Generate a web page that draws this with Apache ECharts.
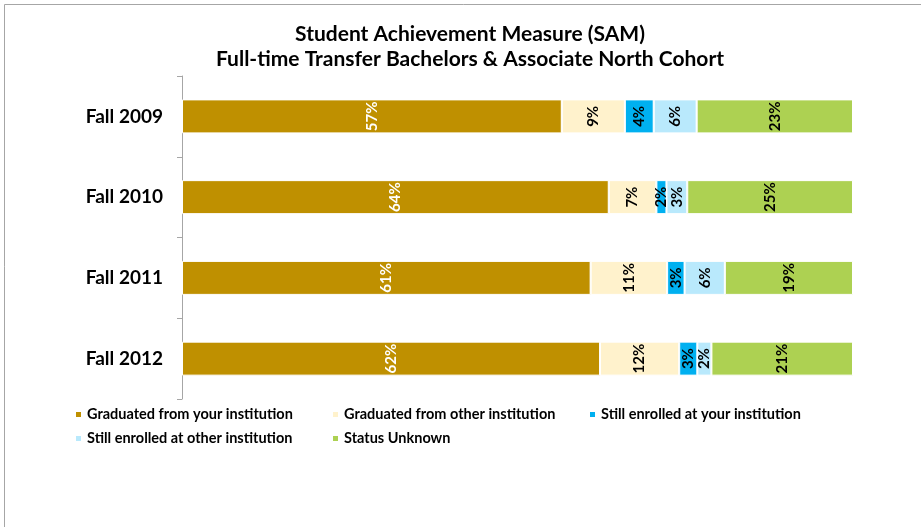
<!DOCTYPE html>
<html>
<head>
<meta charset="utf-8">
<script src="https://cdn.jsdelivr.net/npm/echarts@6/dist/echarts.min.js"></script>
<style>
html,body{margin:0;padding:0;background:#fff;}
#chart{width:921px;height:527px;}
</style>
</head>
<body>
<div id="chart"></div>
<script>
const categories = ['Fall 2009', 'Fall 2010', 'Fall 2011', 'Fall 2012'];
const seriesNames = [
  'Graduated from your institution',
  'Graduated from other institution',
  'Still enrolled at your institution',
  'Still enrolled at other institution',
  'Status Unknown'
];
const gradYour = [56.6, 63.6, 60.9, 62.3];
const gradOther = [9.4, 7.1, 11.4, 11.8];
const enrolledYour = [4.3, 1.5, 2.6, 2.7];
const enrolledOther = [6.4, 3.1, 6.0, 2.1];
const unknown = [23.3, 24.7, 19.1, 21.1];
const seriesValues = [gradYour, gradOther, enrolledYour, enrolledOther, unknown];
const colors = ['#BF9000', '#FFF2CC', '#00B0F0', '#B9E9FC', '#ADD152'];
const labelColors = ['#ffffff', '#000000', '#000000', '#000000', '#000000'];
const titleLines = ['Student Achievement Measure (SAM)', 'Full-time Transfer Bachelors & Associate North Cohort'];

const FONT = 'Lato, "Open Sans", sans-serif';
const chart = echarts.init(document.getElementById('chart'), null, {renderer: 'canvas'});

const legendPos = [[74, 407], [331, 407], [588, 407], [74, 431], [331, 431]];
const legends = seriesNames.map((n, i) => ({
  data: [n],
  left: legendPos[i][0],
  top: legendPos[i][1],
  icon: 'rect',
  itemWidth: 7,
  itemHeight: 7,
  itemGap: 0,
  padding: 0,
  selectedMode: false,
  textStyle: {fontFamily: FONT, fontWeight: 'bold', fontSize: 14.5, color: '#000', padding: [0, 0, 0, 0]}
}));

const option = {
  animation: false,
  color: colors,
  title: {
    text: titleLines.join('\n'),
    left: 465,
    top: 17,
    textAlign: 'center',
    textStyle: {fontFamily: FONT, fontWeight: 'bold', fontSize: 21, lineHeight: 25, color: '#000'}
  },
  graphic: [{
    type: 'rect',
    shape: {x: 4.5, y: 4.5, width: 1000, height: 1000},
    style: {fill: 'none', stroke: '#a6a6a6', lineWidth: 1},
    silent: true,
    z: -1
  }],
  legend: legends,
  grid: {left: 182, right: 68, top: 76, bottom: 128, containLabel: false},
  xAxis: {
    type: 'value', min: 0, max: 100, show: false
  },
  yAxis: {
    type: 'category',
    data: categories,
    inverse: true,
    axisLine: {show: true, lineStyle: {color: '#a6a6a6', width: 1}},
    axisTick: {show: true, length: 5, lineStyle: {color: '#a6a6a6'}},
    axisLabel: {fontFamily: FONT, fontWeight: 'bold', fontSize: 19, color: '#000', margin: 19},
    splitLine: {show: false}
  },
  series: seriesValues.map((vals, i) => ({
    name: seriesNames[i],
    type: 'bar',
    stack: 'total',
    barWidth: 34,
    data: vals,
    itemStyle: {color: colors[i], borderColor: '#ffffff', borderWidth: 1},
    label: {
      show: true,
      position: 'inside',
      rotate: 90,
      fontFamily: FONT,
      fontWeight: 'bold',
      fontSize: 15,
      color: labelColors[i],
      formatter: p => Math.round(p.value) + '%'
    }
  }))
};
chart.setOption(option);
</script>
</body>
</html>
